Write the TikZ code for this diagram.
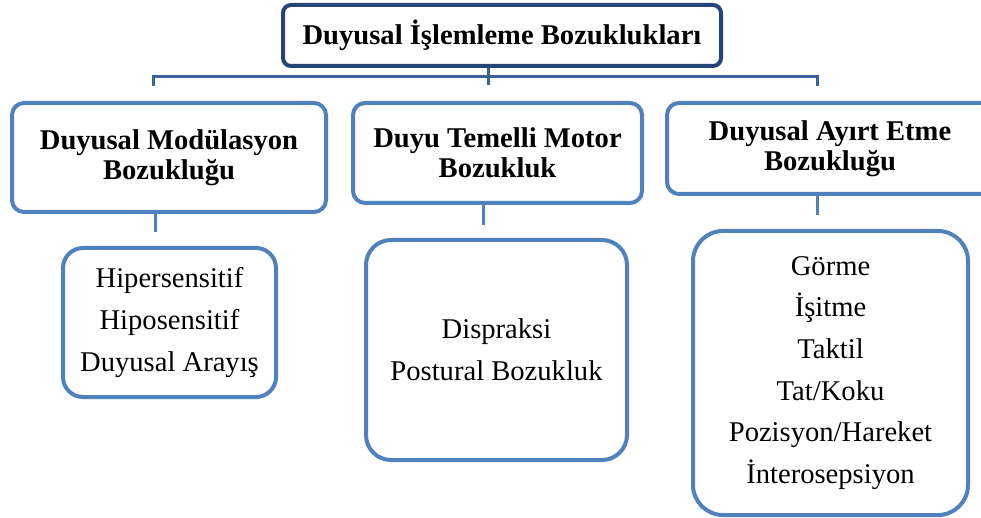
\documentclass[tikz,border=0pt]{standalone}
\usepackage{fontspec}
\setmainfont{Liberation Serif}
\definecolor{rootblue}{RGB}{37,68,122}
\definecolor{barblue}{RGB}{58,98,158}
\definecolor{boxblue}{RGB}{79,129,189}
\tikzset{
  rootbox/.style={draw=rootblue, line width=4pt, rounded corners=8pt, align=center,
    inner sep=0pt, font=\fontsize{28.6}{30}\selectfont\bfseries},
  headbox/.style={draw=boxblue, line width=4pt, rounded corners=12pt, align=center,
    inner sep=0pt, font=\fontsize{28.6}{30.5}\selectfont\bfseries},
  itembox/.style={draw=boxblue, line width=4pt, align=center,
    inner sep=0pt, font=\fontsize{28.6}{41.7}\selectfont},
  barline/.style={draw=barblue, line width=3pt},
  stubline/.style={draw=boxblue, line width=3pt}
}

\begin{document}
\begin{tikzpicture}[x=1pt,y=-1pt]
                \path[use as bounding box, clip] (0,0) rectangle (981,518);

                % Top box
                \node[rootbox, minimum width=438pt, minimum height=61pt] (root) at (502,35.5) {Duyusal İşlemleme Bozuklukları};

                % Second level
                \node[headbox, minimum width=314pt, minimum height=109pt] (modul) at (169,157.5) {Duyusal Modülasyon\\Bozukluğu};
                \node[headbox, minimum width=289pt, minimum height=100pt] (motor) at (497.5,153) {Duyu Temelli Motor\\Bozukluk};
                \node[headbox, minimum width=326pt, minimum height=91pt] (ayirt) at (830,148.5) {Duyusal Ayırt Etme\\Bozukluğu};

                % Third level
                \node[itembox, rounded corners=20pt, minimum width=213pt, minimum height=149pt] (modlist) at (169.5,322.5) {Hipersensitif\\Hiposensitif\\Duyusal Arayış};
                \node[itembox, rounded corners=25pt, minimum width=261pt, minimum height=220pt] (motlist) at (496.5,350) {Dispraksi\\Postural Bozukluk};
                \node[itembox, rounded corners=30pt, minimum width=275pt, minimum height=284pt] (ayrlist) at (830.5,373) {Görme\\İşitme\\Taktil\\Tat/Koku\\Pozisyon/Hareket\\İnterosepsiyon};

                % Bar under the top box
                \coordinate (bar) at (0,77);
                \coordinate (barL) at (153,86);
                \coordinate (barM) at (488,85);
                \coordinate (barR) at (817,86);
                \draw[barline] (barM |- root.south) -- (barM);
                \draw[barline] (barL) -- (barL |- bar) -- (barR |- bar) -- (barR);

                % Stubs under the second level
                \coordinate (modstub) at (155,232);
                \coordinate (motstub) at (483,225);
                \coordinate (ayrstub) at (817,215);
                \draw[stubline] (modstub |- modul.south) -- (modstub);
                \draw[stubline] (motstub |- motor.south) -- (motstub);
                \draw[stubline] (ayrstub |- ayirt.south) -- (ayrstub);
            \end{tikzpicture}
\end{document}
